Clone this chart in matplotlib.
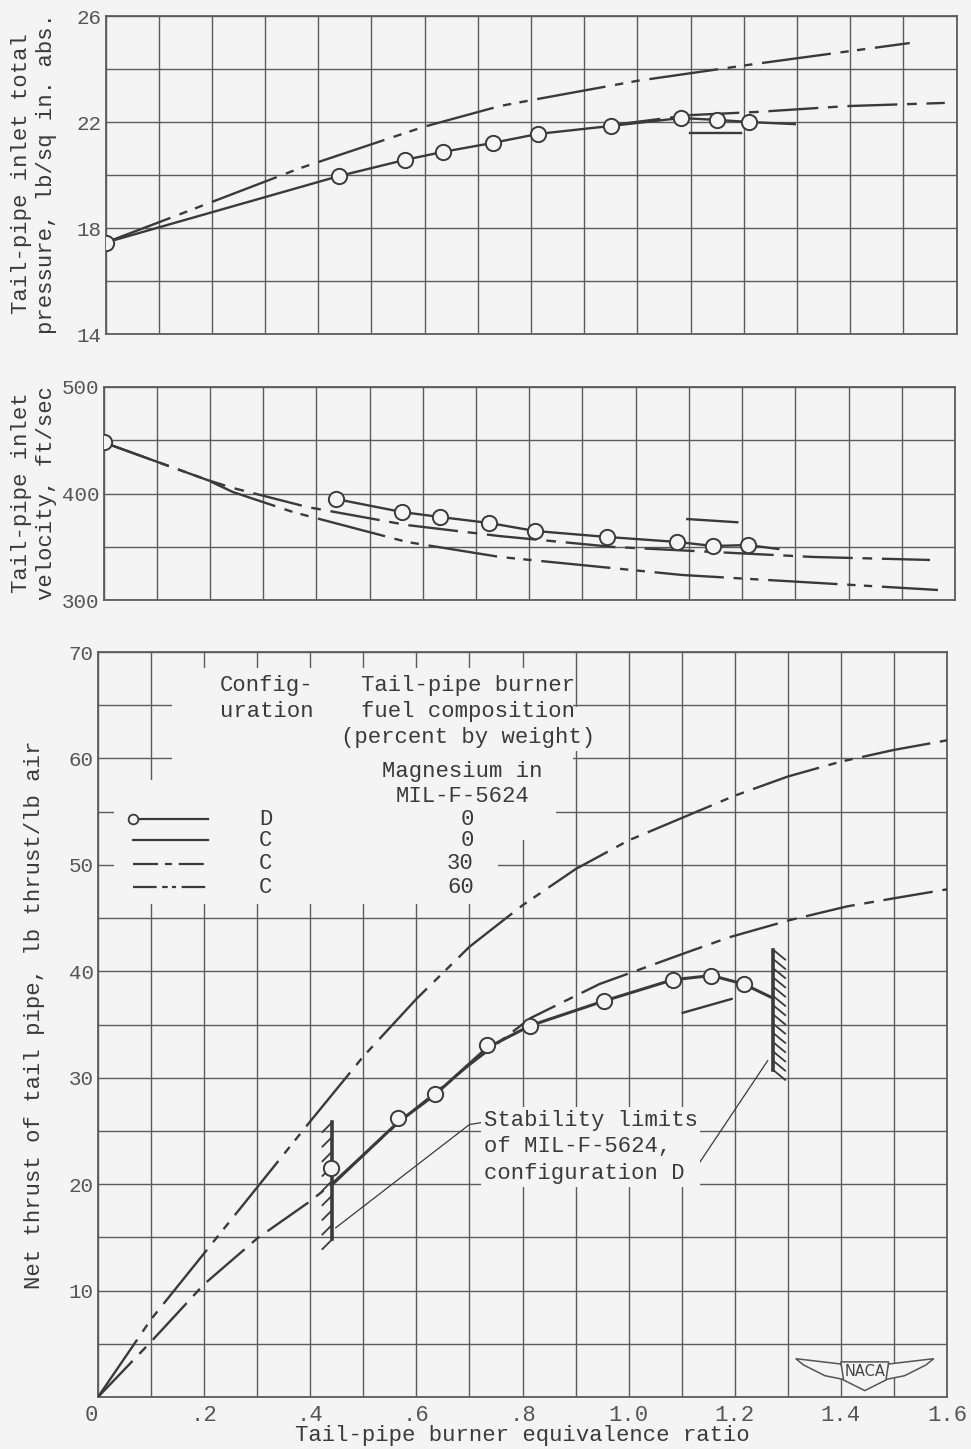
import matplotlib
matplotlib.use('Agg')
import matplotlib.pyplot as plt
import numpy as np
from matplotlib.patches import Rectangle, Polygon
from matplotlib.ticker import FixedLocator, FuncFormatter

plt.rcParams['font.family'] = ['Liberation Mono', 'DejaVu Sans Mono']
plt.rcParams['lines.scale_dashes'] = False

BG = '#f4f4f4'
INK = '#3a3a3a'
GRID = '#5c5c5c'
TICKC = '#555555'

# ---------------- data ----------------
# x: tail-pipe burner equivalence ratio
# Top panel: tail-pipe inlet total pressure, lb/sq in. abs.
press_D_x = [0.0, 0.439, 0.563, 0.634, 0.728, 0.813, 0.950, 1.082, 1.149, 1.210]
press_D_y = [17.45, 19.96, 20.57, 20.87, 21.21, 21.55, 21.85, 22.15, 22.08, 22.00]
press_D_end_x = [1.210, 1.296]
press_D_end_y = [22.00, 21.92]
press_C0_x = [1.099, 1.194]
press_C0_y = [21.58, 21.58]
press_C30_x = [0.95, 1.099, 1.225, 1.394, 1.578]
press_C30_y = [21.88, 22.26, 22.38, 22.60, 22.72]
press_C60_x = [0.0, 0.097, 0.366, 0.597, 0.741, 0.813, 0.999, 1.221, 1.512]
press_C60_y = [17.45, 18.19, 20.26, 21.81, 22.60, 22.87, 23.55, 24.19, 24.98]

# Middle panel: tail-pipe inlet velocity, ft/sec
vel_D_x = [0.0, 0.437, 0.561, 0.633, 0.725, 0.811, 0.946, 1.078, 1.146, 1.211]
vel_D_y = [448.0, 394.8, 382.6, 377.9, 372.3, 364.8, 359.2, 354.5, 350.7, 351.6]
vel_D_end_x = [1.211, 1.268]
vel_D_end_y = [351.6, 347.9]
vel_C0_x = [1.097, 1.191]
vel_C0_y = [376.0, 373.0]
vel_C30_x = [0.0, 0.195, 0.243, 0.383, 0.570, 0.745, 0.958, 1.334, 1.553]
vel_C30_y = [448.0, 412.7, 405.2, 387.3, 370.4, 360.0, 349.8, 340.4, 337.6]
vel_C60_x = [0.0, 0.195, 0.243, 0.356, 0.570, 0.745, 1.087, 1.343, 1.568]
vel_C60_y = [448.0, 412.7, 401.4, 382.6, 354.5, 340.4, 323.5, 316.0, 309.4]

# Bottom panel: net thrust of tail pipe, lb thrust/lb air
thrust_D_x = [0.439, 0.565, 0.635, 0.733, 0.815, 0.953, 1.083, 1.156, 1.217]
thrust_D_y = [21.5, 26.2, 28.5, 33.1, 34.9, 37.2, 39.2, 39.6, 38.8]
thrust_Dline_x = [0.44, 0.565, 0.635, 0.733, 0.815, 0.953, 1.083, 1.156, 1.217, 1.271]
thrust_Dline_y = [19.9, 25.8, 28.4, 32.8, 34.9, 37.2, 39.2, 39.6, 38.8, 37.5]
thrust_C0_x = [1.102, 1.194]
thrust_C0_y = [36.1, 37.4]
thrust_C30_x = [0.0, 0.1, 0.2, 0.3, 0.4, 0.44, 0.569, 0.70, 0.815, 0.945, 1.017,
                1.111, 1.19, 1.303, 1.412, 1.505, 1.6]
thrust_C30_y = [0.0, 5.2, 10.6, 14.9, 18.4, 20.0, 25.9, 31.2, 35.6, 38.8, 40.1,
                41.8, 43.2, 44.8, 46.1, 46.9, 47.7]
thrust_C60_x = [0.0, 0.1, 0.2, 0.3, 0.4, 0.5, 0.6, 0.7, 0.8, 0.9, 1.0, 1.1, 1.2,
                1.3, 1.4, 1.5, 1.6]
thrust_C60_y = [0.0, 7.3, 13.5, 19.7, 25.9, 32.0, 37.4, 42.3, 46.2, 49.6, 52.3,
                54.4, 56.5, 58.3, 59.7, 60.8, 61.7]

# stability limits (configuration D)
stab_low_x = [0.441, 0.441]
stab_low_y = [14.8, 25.8]
stab_high_x = [1.273, 1.273]
stab_high_y = [30.7, 42.0]

# legend table
legend_config = ['D', 'C', 'C', 'C']
legend_mg = ['0', '0', '30', '60']

x_ticks = [0.0, 0.1, 0.2, 0.3, 0.4, 0.5, 0.6, 0.7, 0.8, 0.9, 1.0, 1.1, 1.2,
           1.3, 1.4, 1.5, 1.6]
press_ticks = [14, 16, 18, 20, 22, 24, 26]
press_labels = [14, 18, 22, 26]
vel_ticks = [300, 350, 400, 450, 500]
vel_labels = [300, 400, 500]
thrust_ticks = [0, 5, 10, 15, 20, 25, 30, 35, 40, 45, 50, 55, 60, 65, 70]
thrust_labels = [10, 20, 30, 40, 50, 60, 70]

# ---------------- styles ----------------
LW = 1.7
D30 = (0, (36, 7, 7, 7))
D60 = (0, (50, 7, 6, 6, 6, 7))
D30_leg = (0, (18, 5, 5, 5))
D60_leg = (0, (17, 4, 4, 3, 3, 4))

W, H = 971, 1449
fig = plt.figure(figsize=(W / 100, H / 100), dpi=100, facecolor=BG)


def axes_px(left, right, top, bottom):
    return fig.add_axes([left / W, 1 - bottom / H, (right - left) / W, (bottom - top) / H])


ax1 = axes_px(105.5, 956.5, 16, 334)
ax2 = axes_px(103.5, 955, 387, 600)
ax3 = axes_px(98, 947, 652, 1397)


def xfmt(v, pos):
    k = int(round(v * 10))
    if k % 2:
        return ''
    if k == 0:
        return '0 '
    s = f'{v:.1f}'
    if s.startswith('0'):
        s = s[1:]
    return s


def style(ax, ylim, yticks, ylabels, xlabels):
    ax.set_facecolor(BG)
    ax.set_xlim(0, 1.6)
    ax.set_ylim(*ylim)
    ax.xaxis.set_major_locator(FixedLocator(x_ticks))
    ax.yaxis.set_major_locator(FixedLocator(yticks))
    ax.yaxis.set_major_formatter(FuncFormatter(
        lambda v, p: (f'{v:.0f}' if int(round(v)) in ylabels else '')))
    if xlabels:
        ax.xaxis.set_major_formatter(FuncFormatter(xfmt))
    else:
        ax.xaxis.set_major_formatter(FuncFormatter(lambda v, p: ''))
    ax.grid(True, color=GRID, lw=1.0)
    ax.set_axisbelow(True)
    for s in ax.spines.values():
        s.set_color(GRID)
        s.set_linewidth(1.3)
    ax.tick_params(length=0, labelsize=15, labelcolor=TICKC)
    ax.tick_params(axis='y', pad=3)
    ax.tick_params(axis='x', pad=6, labelsize=16)


style(ax1, (14, 26), press_ticks, press_labels, False)
style(ax2, (300, 500), vel_ticks, vel_labels, False)
style(ax3, (0, 70), thrust_ticks, thrust_labels, True)

mk = dict(marker='o', ms=11, mfc=BG, mec=INK, mew=1.4, ls='none', zorder=5)

# ---- top panel ----
ax1.plot(press_D_x, press_D_y, color=INK, lw=LW, zorder=3)
ax1.plot(press_D_end_x, press_D_end_y, color=INK, lw=LW, zorder=3)
ax1.plot(press_D_x, press_D_y, **mk)
ax1.plot(press_C0_x, press_C0_y, color=INK, lw=LW, zorder=3)
ax1.plot(press_C30_x, press_C30_y, color=INK, lw=LW, ls=D30, zorder=3)
ax1.plot(press_C60_x, press_C60_y, color=INK, lw=LW, ls=D60, zorder=3)

# ---- middle panel ----
ax2.plot(vel_D_x[1:], vel_D_y[1:], color=INK, lw=LW, zorder=3)
ax2.plot(vel_D_end_x, vel_D_end_y, color=INK, lw=LW, zorder=3)
ax2.plot(vel_D_x, vel_D_y, **mk)
ax2.plot(vel_C0_x, vel_C0_y, color=INK, lw=LW, zorder=3)
ax2.plot(vel_C30_x, vel_C30_y, color=INK, lw=LW, ls=D30, zorder=3)
ax2.plot(vel_C60_x, vel_C60_y, color=INK, lw=LW, ls=D60, zorder=3)

# ---- bottom panel ----
# blank areas behind legend text (grid interrupted)
for (x0, x1, y0, y1) in [(0.139, 0.895, 58.0, 68.5), (0.895, 0.935, 60.7, 64.8),
                         (0.03, 0.864, 52.3, 58.0), (0.03, 0.753, 46.3, 52.3)]:
    ax3.add_patch(Rectangle((x0, y0), x1 - x0, y1 - y0, fc=BG, ec='none', zorder=1))

ax3.plot(thrust_Dline_x, thrust_Dline_y, color=INK, lw=2.2, zorder=3)
ax3.plot(thrust_D_x, thrust_D_y, **mk)
ax3.plot(thrust_C0_x, thrust_C0_y, color=INK, lw=LW, zorder=3)
ax3.plot(thrust_C30_x, thrust_C30_y, color=INK, lw=LW, ls=D30, zorder=3)
ax3.plot(thrust_C60_x, thrust_C60_y, color=INK, lw=LW, ls=D60, zorder=3)

# stability limit bars with hatching
ax3.plot(stab_low_x, stab_low_y, color=INK, lw=2.6, zorder=3)
for yy in np.linspace(stab_low_y[0], stab_low_y[1], 9):
    ax3.plot([stab_low_x[0], stab_low_x[0] - 0.018], [yy, yy - 0.9], color=INK, lw=1.3, zorder=3)
ax3.plot(stab_high_x, stab_high_y, color=INK, lw=2.6, zorder=3)
for yy in np.linspace(stab_high_y[0], stab_high_y[1], 14):
    ax3.plot([stab_high_x[0], stab_high_x[0] + 0.022], [yy, yy - 0.9], color=INK, lw=1.3, zorder=3)

# annotation
ax3.text(0.727, 23.5, 'Stability limits\nof MIL-F-5624,\nconfiguration D', fontsize=16,
         color=INK, ha='left', va='center', linespacing=1.35, zorder=4,
         bbox=dict(boxstyle='square,pad=0.12', fc=BG, ec='none'))
ax3.plot([0.725, 0.70, 0.448], [25.8, 25.6, 15.9], color=INK, lw=0.9, zorder=3)
ax3.plot([1.103, 1.128, 1.262], [21.4, 21.6, 31.6], color=INK, lw=0.9, zorder=3)

# legend
ax3.text(0.318, 65.6, 'Config-\nuration', fontsize=16, color=INK, ha='center', va='center',
         linespacing=1.3, zorder=4)
ax3.text(0.697, 64.4, 'Tail-pipe burner\nfuel composition\n(percent by weight)', fontsize=16,
         color=INK, ha='center', va='center', linespacing=1.3, zorder=4)
ax3.text(0.686, 57.6, 'Magnesium in\nMIL-F-5624', fontsize=16, color=INK, ha='center',
         va='center', linespacing=1.3, zorder=4)
leg_y = [54.3, 52.3, 50.1, 47.9]
leg_styles = ['-', '-', D30_leg, D60_leg]
for i in range(4):
    x0 = 0.066 if i == 0 else 0.066
    ax3.plot([x0, 0.207], [leg_y[i], leg_y[i]], color=INK, lw=1.6, ls=leg_styles[i], zorder=3)
    if i == 0:
        ax3.plot([0.066], [leg_y[i]], marker='o', ms=7, mfc=BG, mec=INK, mew=1.3, zorder=4)
    ax3.text(0.316, leg_y[i], legend_config[i], fontsize=16, color=INK, ha='center',
             va='center', zorder=4)
    ax3.text(0.708, leg_y[i], legend_mg[i], fontsize=16, color=INK, ha='right',
             va='center', zorder=4)

# NACA emblem
lw_e = dict(fc=BG, ec='#555555', lw=1.1, zorder=4)
ax3.add_patch(Polygon([[1.315, 3.6], [1.40, 3.1], [1.41, 1.6], [1.37, 2.0], [1.33, 3.0]],
                      closed=True, **lw_e))
ax3.add_patch(Polygon([[1.575, 3.6], [1.49, 3.1], [1.48, 1.6], [1.52, 2.0], [1.56, 3.0]],
                      closed=True, **lw_e))
ax3.add_patch(Polygon([[1.40, 3.3], [1.49, 3.3], [1.485, 1.6], [1.445, 0.6], [1.405, 1.6]],
                      closed=True, **lw_e))
ax3.text(1.445, 2.4, 'NACA', fontsize=10.5, family=['DejaVu Sans'], color='#444444',
         ha='center', va='center', zorder=5)

# axis labels
fig.text(34 / W, 1 - 174 / H, 'Tail-pipe inlet total\npressure, lb/sq in. abs.',
         rotation=90, ha='center', va='center', multialignment='center', fontsize=16,
         color=INK, linespacing=1.3)
fig.text(34 / W, 1 - 493 / H, 'Tail-pipe inlet\nvelocity, ft/sec',
         rotation=90, ha='center', va='center', multialignment='center', fontsize=16,
         color=INK, linespacing=1.3)
fig.text(35 / W, 1 - 1015 / H, 'Net thrust of tail pipe, lb thrust/lb air',
         rotation=90, ha='center', va='center', fontsize=16, color=INK)
fig.text(522 / W, 1 - 1436 / H, 'Tail-pipe burner equivalence ratio',
         ha='center', va='center', fontsize=16, color=INK)

fig.savefig('out.png', dpi=100, facecolor=BG)
